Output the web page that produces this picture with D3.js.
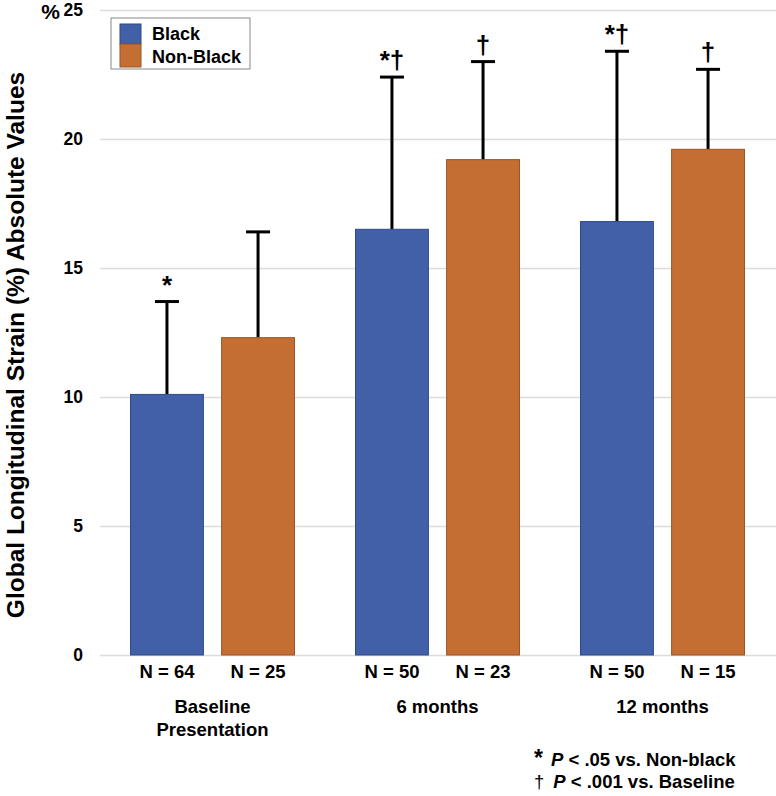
<!DOCTYPE html>
<html>
<head>
<meta charset="utf-8">
<script src="https://cdn.jsdelivr.net/npm/d3@7"></script>
<style>
  body { margin: 0; background: #fff; }
  text { font-family: "Liberation Sans", Arial, sans-serif; font-weight: bold; fill: #000; }
</style>
</head>
<body>
<div id="chart"></div>
<script>
// data
var groups = ["Baseline Presentation", "6 months", "12 months"];
var series = ["Black", "Non-Black"];
var blackMean = [10.1, 16.5, 16.8];
var blackSD = [3.6, 5.9, 6.6];
var nonBlackMean = [12.3, 19.2, 19.6];
var nonBlackSD = [4.1, 3.8, 3.1];
var blackN = [64, 50, 50];
var nonBlackN = [25, 23, 15];
var blackMarks = ["*", "*\u2020", "*\u2020"];
var nonBlackMarks = ["", "\u2020", "\u2020"];
var yTicks = [0, 5, 10, 15, 20, 25];
var colors = { "Black": "#4160A8", "Non-Black": "#C56E33" };
var strokes = { "Black": "#2E4A86", "Non-Black": "#9A5424" };

var width = 776, height = 796;
var svg = d3.select("#chart").append("svg")
    .attr("width", width)
    .attr("height", height);

var x0 = d3.scaleBand().domain(groups).range([100, 775]);
var x1 = d3.scaleBand().domain(series).range([0, x0.bandwidth()])
    .paddingInner(0.2).paddingOuter(0.335);
var y = d3.scaleLinear().domain([0, 25]).range([655, 10]);

var rows = [];
groups.forEach(function(g, i) {
  rows.push({ group: g, key: "Black", mean: blackMean[i], sd: blackSD[i], n: blackN[i], mark: blackMarks[i] });
  rows.push({ group: g, key: "Non-Black", mean: nonBlackMean[i], sd: nonBlackSD[i], n: nonBlackN[i], mark: nonBlackMarks[i] });
});
function cx(d) { return x0(d.group) + x1(d.key) + x1.bandwidth() / 2; }

// gridlines
svg.append("g").selectAll("line")
    .data(yTicks)
    .enter().append("line")
    .attr("x1", 100).attr("x2", 776)
    .attr("y1", function(d) { return y(d) + 0.5; })
    .attr("y2", function(d) { return y(d) + 0.5; })
    .attr("stroke", "#dcdcdc")
    .attr("stroke-width", 1.3);

// y axis labels
var yAxis = d3.axisLeft(y).tickValues(yTicks).tickSize(0).tickPadding(0);
var ya = svg.append("g").attr("transform", "translate(83,0)").call(yAxis);
ya.select(".domain").remove();
ya.selectAll("text")
    .attr("font-size", 17.5)
    .attr("font-family", "Liberation Sans, Arial, sans-serif")
    .attr("font-weight", "bold")
    .attr("fill", "#000");

svg.append("text")
    .attr("x", 60).attr("y", 19)
    .attr("text-anchor", "end")
    .attr("font-size", 21)
    .text("%");

svg.append("text")
    .attr("transform", "translate(24,345) rotate(-90)")
    .attr("text-anchor", "middle")
    .attr("font-size", 24.5)
    .text("Global Longitudinal Strain (%) Absolute Values");

// error bars (upper only)
var err = svg.append("g");
err.selectAll("line.stem")
    .data(rows)
    .enter().append("line")
    .attr("class", "stem")
    .attr("x1", cx).attr("x2", cx)
    .attr("y1", function(d) { return y(d.mean); })
    .attr("y2", function(d) { return y(d.mean + d.sd); })
    .attr("stroke", "#000").attr("stroke-width", 3);
err.selectAll("line.cap")
    .data(rows)
    .enter().append("line")
    .attr("class", "cap")
    .attr("x1", function(d) { return cx(d) - 12; })
    .attr("x2", function(d) { return cx(d) + 12; })
    .attr("y1", function(d) { return y(d.mean + d.sd); })
    .attr("y2", function(d) { return y(d.mean + d.sd); })
    .attr("stroke", "#000").attr("stroke-width", 3);

// bars
svg.append("g").selectAll("rect")
    .data(rows)
    .enter().append("rect")
    .attr("x", function(d) { return x0(d.group) + x1(d.key); })
    .attr("y", function(d) { return y(d.mean); })
    .attr("width", x1.bandwidth())
    .attr("height", function(d) { return y(0) - y(d.mean); })
    .attr("fill", function(d) { return colors[d.key]; })
    .attr("stroke", function(d) { return strokes[d.key]; })
    .attr("stroke-width", 1);

// significance marks
svg.append("g").selectAll("text")
    .data(rows.filter(function(d) { return d.mark; }))
    .enter().append("text")
    .attr("x", cx)
    .attr("y", function(d) { return y(d.mean + d.sd) - 8; })
    .attr("text-anchor", "middle")
    .attr("font-size", 26)
    .attr("font-weight", "normal")
    .text(function(d) { return d.mark; });

// N labels
svg.append("g").selectAll("text")
    .data(rows)
    .enter().append("text")
    .attr("x", cx)
    .attr("y", 678)
    .attr("text-anchor", "middle")
    .attr("font-size", 18.5)
    .text(function(d) { return "N = " + d.n; });

// group labels
var gl = svg.append("g").selectAll("text")
    .data(groups)
    .enter().append("text")
    .attr("x", function(d) { return x0(d) + x0.bandwidth() / 2; })
    .attr("y", 713)
    .attr("text-anchor", "middle")
    .attr("font-size", 18.5);
gl.each(function(d) {
  var parts = d === "Baseline Presentation" ? ["Baseline", "Presentation"] : [d];
  var t = d3.select(this);
  parts.forEach(function(p, i) {
    t.append("tspan")
        .attr("x", x0(d) + x0.bandwidth() / 2)
        .attr("dy", i === 0 ? 0 : 23)
        .text(p);
  });
});

// legend
var lg = svg.append("g").attr("transform", "translate(111,18)");
lg.append("rect")
    .attr("width", 139).attr("height", 51)
    .attr("fill", "#fff")
    .attr("stroke", "#888").attr("stroke-width", 1);
series.forEach(function(s, i) {
  lg.append("rect")
      .attr("x", 9).attr("y", 6 + i * 20)
      .attr("width", 21).attr("height", i === 0 ? 20 : 23)
      .attr("fill", colors[s])
      .attr("stroke", strokes[s]).attr("stroke-width", 1);
  lg.append("text")
      .attr("x", 41).attr("y", 22 + i * 23)
      .attr("font-size", 18)
      .text(s);
});

// footnote
var fn = svg.append("g");
var f1 = fn.append("text").attr("x", 534).attr("y", 766).attr("font-size", 18.5);
f1.append("tspan").attr("font-size", 23).text("*");
f1.append("tspan").attr("dx", 8).attr("font-style", "italic").text("P");
f1.append("tspan").text(" < .05 vs. Non-black");
var f2 = fn.append("text").attr("x", 534).attr("y", 788).attr("font-size", 18.5);
f2.append("tspan").attr("font-weight", "normal").text("\u2020");
f2.append("tspan").attr("dx", 9).attr("font-style", "italic").text("P");
f2.append("tspan").text(" < .001 vs. Baseline");
</script>
</body>
</html>
